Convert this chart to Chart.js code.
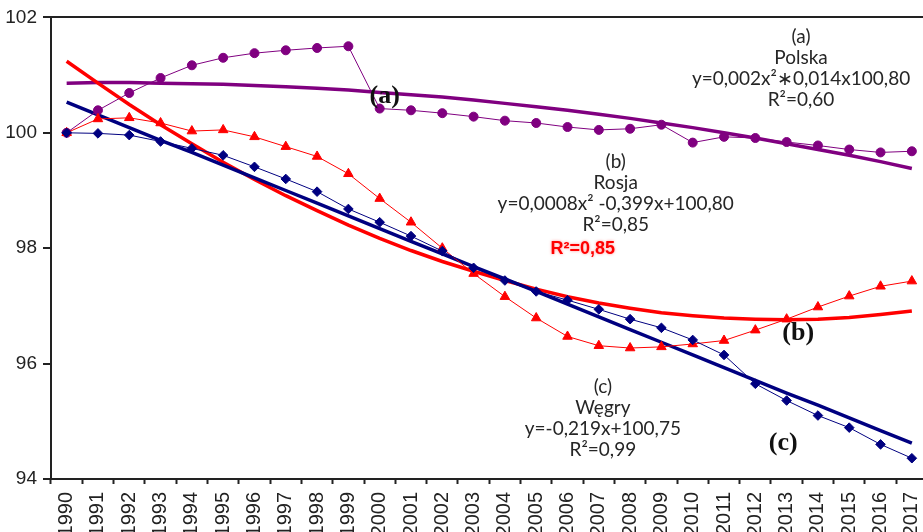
<!DOCTYPE html>
<html>
<head>
<meta charset="utf-8">
<script src="https://cdn.jsdelivr.net/npm/chart.js@4/dist/chart.umd.min.js"></script>
<style>
  html, body { margin: 0; padding: 0; background: #fff; overflow: hidden; }
  #wrap { width: 934px; height: 532px; }
</style>
</head>
<body>
<div id="wrap"><canvas id="c" width="934" height="532"></canvas></div>
<script>
// Years on the category axis
const years = ['1990','1991','1992','1993','1994','1995','1996','1997','1998','1999',
  '2000','2001','2002','2003','2004','2005','2006','2007','2008','2009',
  '2010','2011','2012','2013','2014','2015','2016','2017'];

// Index values (1990 = 100)
const polska = [100.00, 100.39, 100.69, 100.95, 101.17, 101.30, 101.38, 101.43, 101.47, 101.50,
  100.42, 100.39, 100.34, 100.28, 100.21, 100.17, 100.10, 100.05, 100.07, 100.14,
  99.83, 99.93, 99.91, 99.84, 99.78, 99.71, 99.66, 99.68];
const rosja = [100.00, 100.24, 100.26, 100.17, 100.03, 100.05, 99.93, 99.76, 99.59, 99.29,
  98.86, 98.45, 98.00, 97.56, 97.16, 96.79, 96.47, 96.31, 96.27, 96.29,
  96.34, 96.40, 96.58, 96.77, 96.98, 97.17, 97.34, 97.43];
const wegry = [100.00, 99.99, 99.96, 99.85, 99.73, 99.61, 99.41, 99.20, 98.98, 98.68,
  98.45, 98.21, 97.95, 97.66, 97.44, 97.25, 97.10, 96.94, 96.77, 96.62,
  96.41, 96.15, 95.65, 95.36, 95.10, 94.89, 94.60, 94.36];

// Trend lines
const polskaTrend = [100.86, 100.87, 100.87, 100.86, 100.85, 100.84, 100.82, 100.80, 100.77, 100.74,
  100.70, 100.66, 100.62, 100.57, 100.51, 100.45, 100.39, 100.32, 100.25, 100.17,
  100.09, 100.00, 99.91, 99.81, 99.71, 99.61, 99.50, 99.38];
const rosjaTrend = [101.24, 100.86, 100.49, 100.14, 99.81, 99.49, 99.19, 98.91, 98.65, 98.40,
  98.17, 97.96, 97.77, 97.60, 97.44, 97.29, 97.16, 97.05, 96.96, 96.88,
  96.83, 96.79, 96.77, 96.76, 96.77, 96.80, 96.85, 96.91];
const wegryTrend = [100.53, 100.31, 100.09, 99.87, 99.66, 99.44, 99.22, 99.00, 98.78, 98.56,
  98.34, 98.12, 97.90, 97.68, 97.47, 97.25, 97.03, 96.81, 96.59, 96.37,
  96.15, 95.93, 95.71, 95.49, 95.28, 95.06, 94.84, 94.62];

// Y axis ticks
const yTicks = [94, 96, 98, 100, 102];

const PURPLE = '#800080', RED = '#ff0000', NAVY = '#000080', INK = '#262626';

// Text blocks placed in data coordinates (x = category index, y = index value)
const notes = [
  { x: 23.46, y: 101.66, lines: ['(a)', 'Polska', 'y=0,002x²∗0,014x100,80', 'R²=0,60'],
    font: '19px Lato, "Open Sans", sans-serif', color: INK, step: 21 },
  { x: 17.54, y: 99.50, lines: ['(b)', 'Rosja', 'y=0,0008x² -0,399x+100,80', 'R²=0,85'],
    font: '19px Lato, "Open Sans", sans-serif', color: INK, step: 21 },
  { x: 17.13, y: 95.59, lines: ['(c)', 'Węgry', 'y=-0,219x+100,75', 'R²=0,99'],
    font: '19px Lato, "Open Sans", sans-serif', color: INK, step: 21 },
  { x: 16.49, y: 97.98, lines: ['R²=0,85'],
    font: 'bold 18px "Liberation Sans", Arial, sans-serif', color: RED, step: 20, glow: true },
  { x: 10.16, y: 100.64, lines: ['(a)'],
    font: 'bold 26px "Liberation Serif", "Times New Roman", serif', color: '#111', step: 26 },
  { x: 23.37, y: 96.53, lines: ['(b)'],
    font: 'bold 26px "Liberation Serif", "Times New Roman", serif', color: '#111', step: 26 },
  { x: 22.89, y: 94.62, lines: ['(c)'],
    font: 'bold 26px "Liberation Serif", "Times New Roman", serif', color: '#111', step: 26 }
];

const notesPlugin = {
  id: 'notes',
  afterDatasetsDraw(chart) {
    const { ctx, scales: { x, y } } = chart;
    ctx.save();
    ctx.textAlign = 'center';
    ctx.textBaseline = 'middle';
    for (const n of notes) {
      const px = x.getPixelForValue(n.x);
      const py = y.getPixelForValue(n.y);
      ctx.font = n.font;
      ctx.fillStyle = n.color;
      if (n.glow) { ctx.shadowColor = 'rgba(255,80,80,0.6)'; ctx.shadowBlur = 3; }
      else { ctx.shadowBlur = 0; }
      n.lines.forEach((t, i) => ctx.fillText(t, px, py + i * n.step));
    }
    ctx.restore();
  }
};

function dataLine(label, data, color, style, radius, order) {
  return {
    label, data, borderColor: color, backgroundColor: color,
    borderWidth: 1, pointStyle: style, pointRadius: radius, pointHoverRadius: radius,
    pointBorderWidth: 1, tension: 0, order
  };
}
function trendLine(label, data, color, order) {
  return {
    label, data, borderColor: color, borderWidth: 3.5, pointRadius: 0,
    tension: 0, order, fill: false
  };
}

new Chart(document.getElementById('c'), {
  type: 'line',
  data: {
    labels: years,
    datasets: [
      dataLine('Polska', polska, PURPLE, 'circle', 4.5, 3),
      dataLine('Rosja', rosja, RED, 'triangle', 5.5, 2),
      dataLine('Węgry', wegry, NAVY, 'rectRot', 4.8, 1),
      trendLine('Polska – trend', polskaTrend, PURPLE, 6),
      trendLine('Rosja – trend', rosjaTrend, RED, 5),
      trendLine('Węgry – trend', wegryTrend, NAVY, 4)
    ]
  },
  options: {
    responsive: false,
    animation: false,
    devicePixelRatio: 1,
    layout: { padding: { top: 15, right: 1, left: 0, bottom: 0 } },
    plugins: { legend: { display: false }, tooltip: { enabled: false } },
    scales: {
      x: {
        offset: true,
        grid: { offset: true, drawOnChartArea: false, drawTicks: true, tickLength: 5,
                tickColor: '#222', tickWidth: 2 },
        border: { color: '#222', width: 2 },
        ticks: {
          autoSkip: false, maxRotation: 90, minRotation: 90, padding: 8,
          color: '#222', font: { family: '"Liberation Sans Narrow", "Liberation Sans", Arial, sans-serif', size: 20 }
        },
        afterFit(s) { s.height = 53; s.paddingLeft = 0; s.paddingRight = 0; }
      },
      y: {
        min: 94, max: 102,
        afterBuildTicks(s) { s.ticks = yTicks.map(v => ({ value: v })); },
        grid: {
          color: c => (c.tick && c.tick.value === 102 ? '#222' : 'rgba(0,0,0,0)'),
          lineWidth: 2, tickLength: 8, tickColor: '#222', tickWidth: 2
        },
        border: { color: '#222', width: 2 },
        ticks: { padding: 6, color: '#222',
                 font: { family: '"Liberation Sans", Arial, sans-serif', size: 19 } },
        afterFit(s) { s.width = 51; }
      }
    }
  },
  plugins: [notesPlugin]
});
</script>
</body>
</html>
